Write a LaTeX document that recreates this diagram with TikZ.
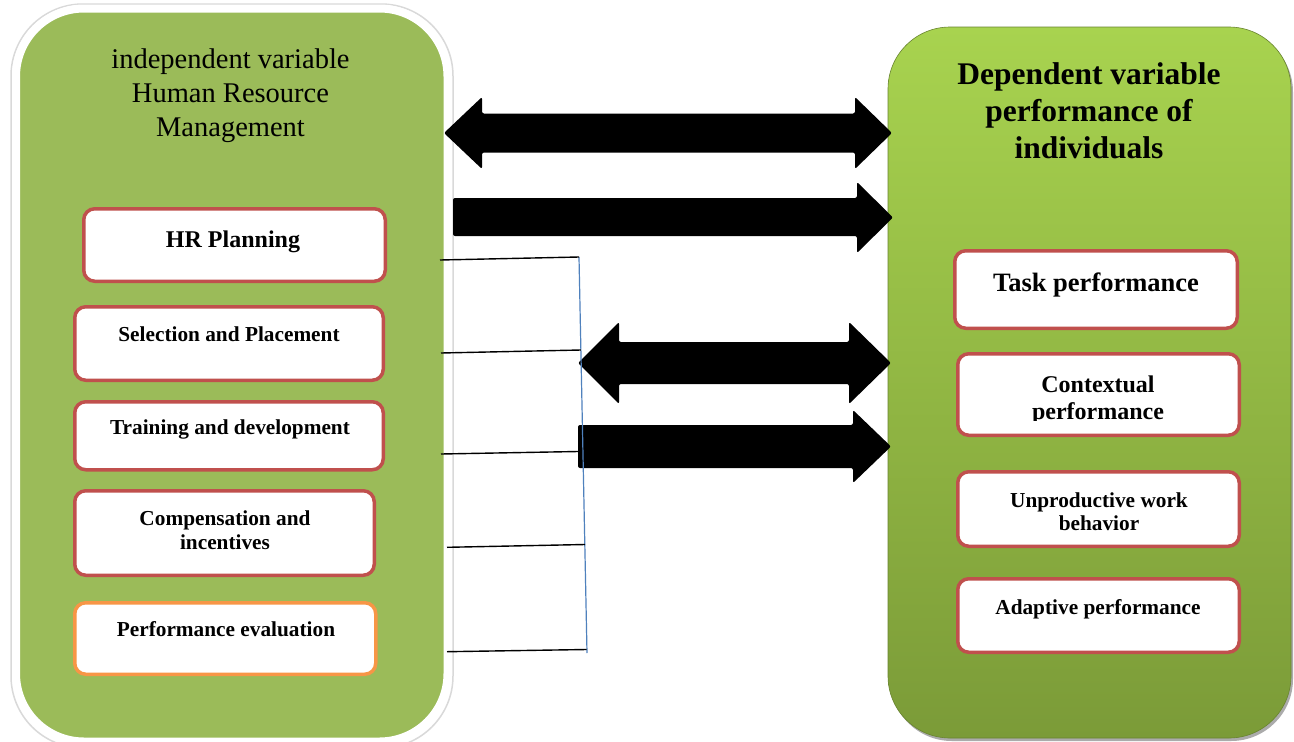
\documentclass[tikz,border=0pt]{standalone}
\usepackage{fontspec}
\setmainfont{Liberation Serif}
\definecolor{lgreen}{HTML}{9BBB59}
\definecolor{rtop}{HTML}{A8D34F}
\definecolor{rbot}{HTML}{7B9B38}
\definecolor{redb}{HTML}{C0504D}
\definecolor{orab}{HTML}{F79646}
\definecolor{blueln}{HTML}{4F81BD}
\begin{document}
\begin{tikzpicture}[x=1pt,y=-1pt,
  rbox/.style={draw=redb, line width=3.5pt, fill=white, rounded corners=11pt, anchor=north west, inner sep=0pt},
  obox/.style={rbox, draw=orab},
  txt/.style={anchor=base, align=center, inner sep=0pt},
  small/.style={txt, font=\fontsize{21.3}{24.3}\selectfont\bfseries},
  bigarrow/.style={fill=black, rounded corners=2pt},
  link/.style={draw=black, line width=1.4pt},
]
\useasboundingbox (0,0) rectangle (1294,742);
\fill[white] (0,0) rectangle (1294,742);

% ---- left panel ----
\draw[black!15, line width=1.5pt, rounded corners=72pt] (11,4) rectangle (453,748);
\node[draw=white, line width=8pt, fill=lgreen, rounded corners=68pt,
      minimum width=431.5pt, minimum height=733pt, inner sep=0pt] (L) at (231.75,375) {};

% ---- right panel ----
\fill[black!60, opacity=0.55, rounded corners=62pt] (890,30) rectangle (1293,741);
\node[top color=rtop, bottom color=rbot, draw=rbot!85!black, line width=0.6pt, rounded corners=62pt,
      minimum width=403pt, minimum height=711pt, inner sep=0pt] (R) at (1089.5,382.5) {};

% ---- titles (anchor = baseline of last line) ----
\node[txt, font=\fontsize{28.5}{34}\selectfont] (ltitle) at (230.5,136.7)
  {independent variable\\Human Resource\\Management};
\node[txt, font=\fontsize{31.5}{36.7}\selectfont\bfseries] (rtitle) at (1089,158.3)
  {Dependent variable\\performance of\\individuals};

% ---- left boxes ----
\node[rbox, minimum width=301.5pt, minimum height=72.5pt] (hr) at (82,207) {};
\node[rbox, minimum width=308.5pt, minimum height=73.5pt] (sel) at (73,305) {};
\node[rbox, minimum width=308.5pt, minimum height=68pt] (tra) at (73,400) {};
\node[rbox, minimum width=299.5pt, minimum height=84.5pt] (com) at (73,489) {};
\node[obox, minimum width=301pt, minimum height=71.5pt] (per) at (73,601) {};

\node[txt, font=\fontsize{24}{28}\selectfont\bfseries] (thr) at (233,247) {HR Planning};
\node[small] (tsel) at (229,341.5) {Selection and Placement};
\node[small] (ttra) at (230,434) {Training and development};
\node[small] (tcom) at (225,549.3) {Compensation and\\incentives};
\node[small] (tper) at (226,636.5) {Performance evaluation};

% ---- right boxes ----
\node[rbox, minimum width=282.5pt, minimum height=77.5pt] (task) at (953,249) {};
\node[rbox, minimum width=281.5pt, minimum height=81.5pt] (ctx) at (956,352) {};
\node[rbox, minimum width=281.5pt, minimum height=74.5pt] (unp) at (956,470) {};
\node[rbox, minimum width=281.5pt, minimum height=73.5pt] (ada) at (956,577) {};

\node[txt, font=\fontsize{26.5}{30}\selectfont\bfseries] (ttask) at (1096,291.7) {Task performance};
\begin{scope}
  \clip (950,350) rectangle (1245,420.5);
  \node[txt, font=\fontsize{24}{27}\selectfont\bfseries] (tctx) at (1098,419.7) {Contextual\\performance};
\end{scope}
\node[small, font=\fontsize{21.3}{23.4}\selectfont\bfseries] (tunp) at (1099,530.7) {Unproductive work\\behavior};
\node[small] (tada) at (1098,614) {Adaptive performance};

% ---- block arrows ----
\fill[bigarrow] (444,133) -- (482,97) -- (482,113.5) -- (855,113.5) -- (855,97) -- (892,133)
  -- (855,169) -- (855,152.5) -- (482,152.5) -- (482,169) -- cycle;
\fill[bigarrow] (453,198) -- (857,198) -- (857,182) -- (893,217.5) -- (857,253) -- (857,236)
  -- (453,236) -- cycle;
\fill[bigarrow] (578,363) -- (619,322) -- (619,342) -- (849,342) -- (849,322) -- (891,363)
  -- (849,404) -- (849,384) -- (619,384) -- (619,404) -- cycle;
\fill[bigarrow] (578,425) -- (853,425) -- (853,410) -- (891,446.5) -- (853,483) -- (853,468)
  -- (578,468) -- cycle;

% ---- bracket lines ----
\coordinate (b0) at (579,257);
\coordinate (b5) at (587,653);
\coordinate (b1) at (579,257);
\coordinate (b2) at (580.9,350);
\coordinate (b3) at (578,451.5);
\coordinate (b4) at (585,544.5);
\coordinate (b6) at (586.6,649.5);
\coordinate (c1) at (440,260);
\coordinate (c2) at (441,353);
\coordinate (c3) at (441,454);
\coordinate (c4) at (447,547.3);
\coordinate (c5) at (447,651.7);
\draw[blueln, line width=1.2pt] (b0) -- (b5);
\draw[link] (c1) -- (b1);
\draw[link] (c2) -- (b2);
\draw[link] (c3) -- (b3);
\draw[link] (c4) -- (b4);
\draw[link] (c5) -- (b6);
\end{tikzpicture}
\end{document}
